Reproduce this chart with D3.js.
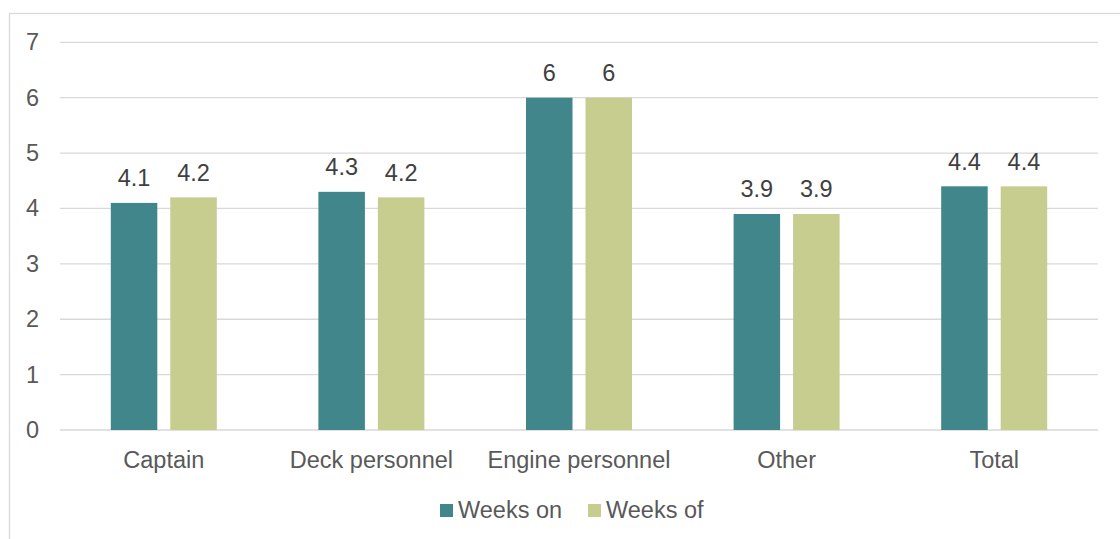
<!DOCTYPE html>
<html>
<head>
<meta charset="utf-8">
<script src="https://cdn.jsdelivr.net/npm/d3@7"></script>
<style>
  html, body { margin: 0; padding: 0; background: #fff; }
  svg { display: block; }
  text { font-family: "Liberation Sans", Arial, sans-serif; }
</style>
</head>
<body>
<svg id="chart" width="1120" height="539"></svg>
<script>
// Average rotation length (weeks) by crew role
const categories = ["Captain", "Deck personnel", "Engine personnel", "Other", "Total"];
const seriesNames = ["Weeks on", "Weeks of"];
const weeksOn = [4.1, 4.3, 6, 3.9, 4.4];
const weeksOff = [4.2, 4.2, 6, 3.9, 4.4];
const yTicks = [0, 1, 2, 3, 4, 5, 6, 7];
const colors = ["#40868a", "#c7cd8f"];

const svg = d3.select("#chart");
const W = 1120, H = 539;
const margin = { left: 60, right: 22, top: 42.3, bottom: 109 };
const plotW = W - margin.left - margin.right;
const plotH = H - margin.top - margin.bottom;
const fontSize = 23.5;

// Outer chart frame (runs off the right and bottom edges)
svg.append("rect")
  .attr("x", 9.5).attr("y", 13.5)
  .attr("width", 1130).attr("height", 540)
  .attr("fill", "none").attr("stroke", "#d9d9d9").attr("stroke-width", 1.3);

const g = svg.append("g").attr("transform", `translate(${margin.left},${margin.top})`);

const x0 = d3.scaleBand().domain(categories).range([0, plotW]).paddingInner(0).paddingOuter(0);
const y = d3.scaleLinear().domain([0, 7]).range([plotH, 0]);

// Gridlines
g.append("g").selectAll("line").data(yTicks).join("line")
  .attr("x1", 0).attr("x2", plotW)
  .attr("y1", d => y(d)).attr("y2", d => y(d))
  .attr("stroke", "#d9d9d9").attr("stroke-width", 1.3);

// Y axis labels
const yAxis = d3.axisLeft(y).tickValues(yTicks).tickSize(0).tickPadding(21).tickFormat(d3.format("d"));
const yG = g.append("g").call(yAxis);
yG.select(".domain").remove();
yG.selectAll("text").attr("fill", "#595959").style("font-size", fontSize + "px")
  .style("font-family", '"Liberation Sans", Arial, sans-serif');

// X axis labels
const xAxis = d3.axisBottom(x0).tickSize(0).tickPadding(21);
const xG = g.append("g").attr("transform", `translate(0,${plotH})`).call(xAxis);
xG.select(".domain").remove();
xG.selectAll("text").attr("fill", "#595959").style("font-size", fontSize + "px")
  .style("font-family", '"Liberation Sans", Arial, sans-serif');

// Bars
const barW = 46.5, gap = 13;
const rows = categories.map((c, i) => ({ c, vals: [weeksOn[i], weeksOff[i]] }));
const groups = g.append("g").selectAll("g").data(rows).join("g")
  .attr("transform", d => `translate(${x0(d.c) + x0.bandwidth() / 2},0)`);

groups.selectAll("rect").data(d => d.vals.map((v, j) => ({ v, j }))).join("rect")
  .attr("x", d => d.j === 0 ? -gap / 2 - barW : gap / 2)
  .attr("width", barW)
  .attr("y", d => y(d.v))
  .attr("height", d => plotH - y(d.v))
  .attr("fill", d => colors[d.j]);

groups.selectAll("text.val").data(d => d.vals.map((v, j) => ({ v, j }))).join("text")
  .attr("class", "val")
  .attr("x", d => d.j === 0 ? -gap / 2 - barW / 2 : gap / 2 + barW / 2)
  .attr("y", d => y(d.v) - 16.5)
  .attr("text-anchor", "middle")
  .attr("fill", "#404040")
  .style("font-size", fontSize + "px")
  .text(d => d3.format("~g")(d.v));

// Legend
const legend = svg.append("g");
const legendX = [440, 588];
seriesNames.forEach((name, i) => {
  legend.append("rect").attr("x", legendX[i]).attr("y", 504).attr("width", 13).attr("height", 13)
    .attr("fill", colors[i]);
  legend.append("text").attr("x", legendX[i] + 18).attr("y", 518)
    .attr("fill", "#595959").style("font-size", fontSize + "px").text(name);
});
</script>
</body>
</html>
